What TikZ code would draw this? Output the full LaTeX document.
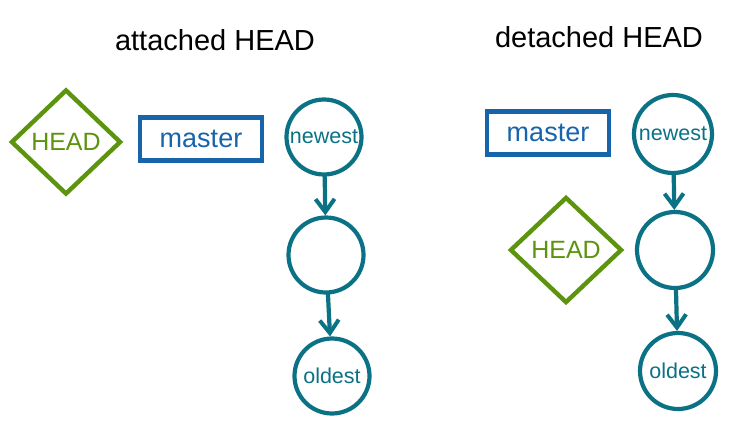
\documentclass[tikz,border=0pt]{standalone}
\usepackage{fontspec}
\setmainfont{Liberation Sans}
\usetikzlibrary{shapes.geometric,arrows.meta}
\definecolor{hgreen}{HTML}{5C940D}
\definecolor{hblue}{HTML}{1864AB}
\definecolor{hteal}{HTML}{0B7285}
\tikzset{
  title/.style={font=\fontsize{29}{32}\selectfont, text=black},
  headnode/.style={diamond, draw=hgreen, line width=4.4pt, text=hgreen, inner sep=0pt,
     minimum width=110pt, minimum height=105pt, font=\fontsize{25}{28}\selectfont},
  branch/.style={rectangle, draw=hblue, line width=4.4pt, text=hblue, inner sep=0pt,
     minimum width=122pt, minimum height=43pt, font=\fontsize{27}{30}\selectfont},
  commit/.style={circle, draw=hteal, line width=4.2pt, text=hteal, inner sep=0pt,
     minimum size=75pt, font=\fontsize{21.5}{24}\selectfont},
  link/.style={draw=hteal, line width=4.2pt, line cap=round,
     -{Straight Barb[length=13pt,width=19pt,line width=4pt]}},
}
\begin{document}
\begin{tikzpicture}[x=1pt,y=-1pt]
\useasboundingbox[fill=white] (0,0) rectangle (733,434);
% left: attached HEAD
\node[title] (t1) at (215,40) {attached HEAD};
\node[headnode] (h1) at (66,142) {HEAD};
\node[branch] (b1) at (201,139) {master};
\node[commit] (n1) at (324,137) {newest};
\node[commit] (m1) at (326,255) {};
\node[commit] (o1) at (332,376) {oldest};
\draw[link] (n1) -- (m1);
\draw[link] (m1) -- (o1);
% right: detached HEAD
\node[title] (t2) at (599,37) {detached HEAD};
\node[branch] (b2) at (548,133) {master};
\node[commit, minimum size=78pt] (n2) at (673,134) {newest};
\node[headnode, minimum width=112pt, minimum height=106pt] (h2) at (566,250) {HEAD};
\node[commit, minimum size=76pt] (m2) at (675,250) {};
\node[commit, minimum size=76pt] (o2) at (678,371) {oldest};
\draw[link] (n2) -- (m2);
\draw[link] (m2) -- (o2);
\end{tikzpicture}
\end{document}
